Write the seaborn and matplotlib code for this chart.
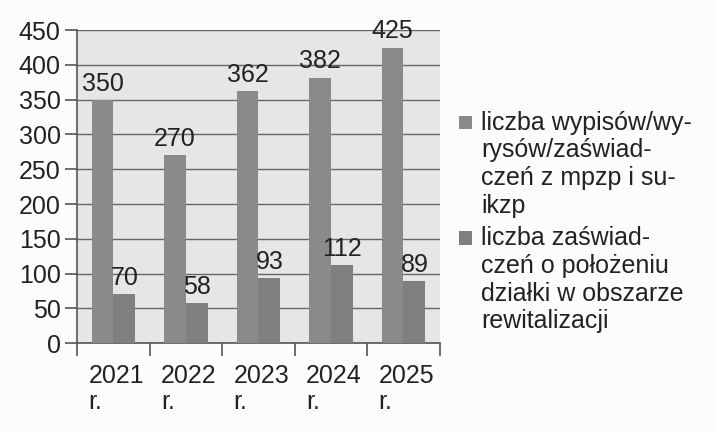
import pandas as pd
import seaborn as sns
import matplotlib.pyplot as plt
import matplotlib.transforms as mtrans
from matplotlib.patches import Rectangle
from matplotlib.legend_handler import HandlerPatch
from matplotlib.ticker import FixedLocator

years = ['2021\nr.', '2022\nr.', '2023\nr.', '2024\nr.', '2025\nr.']
wypisy = [350, 270, 362, 382, 425]
polozenie = [70, 58, 93, 112, 89]
series_names = ['liczba wypisów/wy-\nrysów/zaświad-\nczeń z mpzp i su-\nikzp',
                'liczba zaświad-\nczeń o położeniu\ndziałki w obszarze\nrewitalizacji']

df = pd.DataFrame({
    'rok': years * 2,
    'wartosc': wypisy + polozenie,
    'seria': [series_names[0]] * len(years) + [series_names[1]] * len(years),
})

sns.set_style('white')
plt.rcParams['font.family'] = ['Liberation Sans', 'DejaVu Sans']
FS = 18

fig = plt.figure(figsize=(7.15, 4.32), dpi=100)
ax = fig.add_axes([0.108, 0.206, 0.507, 0.724])
ax.set_facecolor('#e6e6e6')
fig.patch.set_facecolor('#fcfcfc')

sns.barplot(data=df, x='rok', y='wartosc', hue='seria',
            palette=['#8a8a8a', '#7f7f7f'], width=0.6, saturation=1,
            linewidth=0, edgecolor='none', ax=ax, zorder=3)

for cont in ax.containers:
    ax.bar_label(cont, fontsize=FS, color='#222222', padding=3)

ax.set_ylim(0, 450)
ax.set_yticks(range(0, 451, 50))
ax.set_xlim(-0.5, 4.5)
ax.grid(axis='y', color='#666666', linewidth=1.0, zorder=0)
ax.set_axisbelow(True)
ax.set_xlabel('')
ax.set_ylabel('')

for s in ['top', 'right']:
    ax.spines[s].set_visible(False)
for s in ['left', 'bottom']:
    ax.spines[s].set_color('#555555')
    ax.spines[s].set_linewidth(1.2)

ax.tick_params(axis='y', labelsize=FS, labelcolor='#222222', length=9,
               color='#555555', width=1.2, direction='out', left=True, pad=3)
ax.tick_params(axis='x', which='major', labelsize=FS, labelcolor='#222222',
               length=0, pad=15)
ax.xaxis.set_minor_locator(FixedLocator([-0.5, 0.5, 1.5, 2.5, 3.5, 4.5]))
ax.tick_params(axis='x', which='minor', length=9, color='#555555', width=1.2,
               direction='out', bottom=True)
offset = mtrans.ScaledTranslation(-0.25, 0, fig.dpi_scale_trans)
for lbl in ax.get_xticklabels():
    lbl.set_horizontalalignment('left')
    lbl.set_linespacing(1.1)
    lbl.set_transform(lbl.get_transform() + offset)


# small square next to the first text line of each entry
def top_square(legend, orig_handle, xdescent, ydescent, width, height, fontsize):
    size = 0.55 * fontsize
    return Rectangle((-xdescent, -ydescent + height - size * 1.15 + 0.6 * fontsize),
                     size, size)


ax.legend(loc='upper left', bbox_to_anchor=(0.99, 0.815), frameon=False,
          fontsize=FS, handlelength=0.55, handleheight=4.4, handletextpad=0.35,
          labelspacing=0.32, labelcolor='#222222',
          handler_map={Rectangle: HandlerPatch(patch_func=top_square)})

fig.savefig('out.png', dpi=100, facecolor=fig.get_facecolor())
